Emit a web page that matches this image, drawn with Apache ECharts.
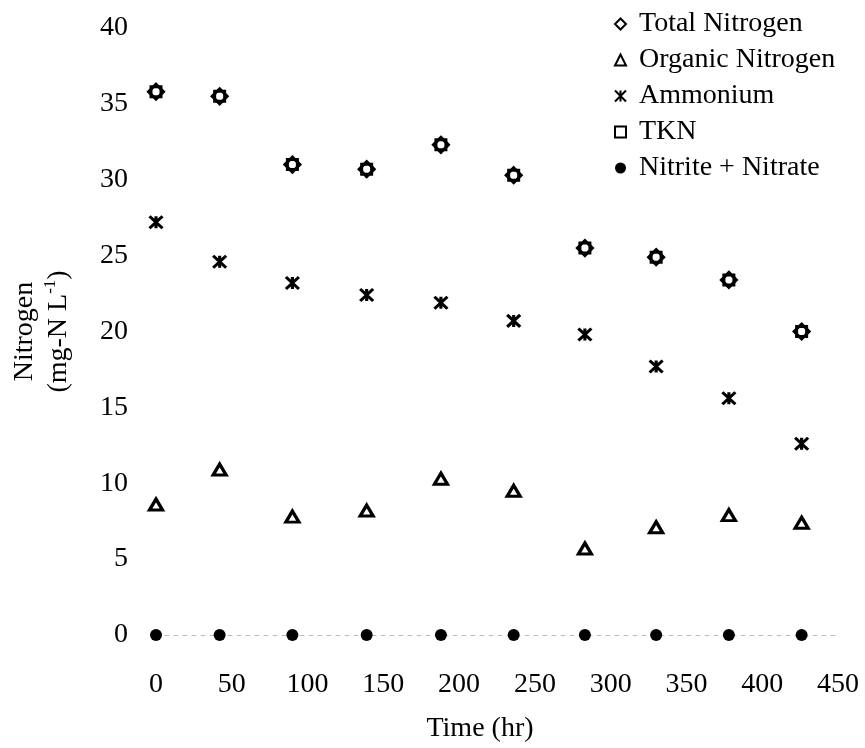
<!DOCTYPE html>
<html>
<head>
<meta charset="utf-8">
<script src="https://cdn.jsdelivr.net/npm/echarts@6/dist/echarts.min.js"></script>
<style>
  html, body { margin: 0; padding: 0; background: #fff; }
  #chart { width: 865px; height: 748px; }
</style>
</head>
<body>
<div id="chart"></div>
<script>
// Sampling times (hr)
const timeHr = [0, 42, 90, 139, 188, 236, 283, 330, 378, 426];

// Nitrogen species (mg-N/L)
const totalNitrogen   = [35.8, 35.5, 31.0, 30.7, 32.3, 30.3, 25.5, 24.9, 23.4, 20.0];
const organicNitrogen = [8.6, 10.9, 7.8, 8.2, 10.3, 9.5, 5.7, 7.1, 7.9, 7.4];
const ammonium        = [27.2, 24.6, 23.2, 22.4, 21.9, 20.7, 19.8, 17.7, 15.6, 12.6];
const tkn             = [35.8, 35.5, 31.0, 30.7, 32.3, 30.3, 25.5, 24.9, 23.4, 20.0];
const nitriteNitrate  = [0, 0, 0, 0, 0, 0, 0, 0, 0, 0];

// Axis ticks
const xTicks = [0, 50, 100, 150, 200, 250, 300, 350, 400, 450];
const yTicks = [0, 5, 10, 15, 20, 25, 30, 35, 40];

const FONT = '"Liberation Serif", "Times New Roman", serif';
const pairs = (ys) => timeHr.map((t, i) => [t, ys[i]]);

// Asterisk marker: an X crossed by a vertical stroke
const starPath = 'path://M0,0 L10,10 M10,0 L0,10 M5,0 L5,10';

const chart = echarts.init(document.getElementById('chart'), null, { renderer: 'canvas' });

chart.setOption({
  backgroundColor: '#fff',
  animation: false,
  textStyle: { fontFamily: FONT, color: '#000' },
  grid: { left: 152, right: 27, top: 28, bottom: 109, containLabel: false },
  legend: {
    orient: 'vertical',
    left: 609,
    top: 1,
    itemWidth: 11,
    itemHeight: 11,
    itemGap: 0,
    selectedMode: false,
    textStyle: { fontFamily: FONT, fontSize: 28, color: '#000', lineHeight: 36, padding: [0, 0, 0, 8] },
    data: ['Total Nitrogen', 'Organic Nitrogen', 'Ammonium', 'TKN', 'Nitrite + Nitrate']
  },
  xAxis: {
    type: 'value',
    min: xTicks[0],
    max: xTicks[xTicks.length - 1],
    interval: 50,
    name: 'Time (hr)',
    nameLocation: 'middle',
    nameGap: 80,
    nameTextStyle: { fontFamily: FONT, fontSize: 28, color: '#000', padding: [0, 34, 0, 0] },
    axisLine: { show: true, lineStyle: { color: '#bbb', width: 1, type: [4, 5] } },
    axisTick: { show: false },
    splitLine: { show: false },
    axisLabel: { fontFamily: FONT, fontSize: 28, color: '#000', margin: 36 }
  },
  yAxis: {
    type: 'value',
    min: yTicks[0],
    max: yTicks[yTicks.length - 1],
    interval: 5,
    name: 'Nitrogen\n(mg-N L{sup|-1})',
    nameLocation: 'middle',
    nameGap: 80,
    nameRotate: 90,
    nameTextStyle: {
      fontFamily: FONT, fontSize: 28, color: '#000', lineHeight: 34, align: 'center',
      rich: { sup: { fontFamily: FONT, fontSize: 17, color: '#000', verticalAlign: 'top', lineHeight: 34, padding: [0, 0, 12, 0] } }
    },
    axisLine: { show: false },
    axisTick: { show: false },
    splitLine: { show: false },
    axisLabel: { fontFamily: FONT, fontSize: 28, color: '#000', margin: 28 }
  },
  series: [
    {
      name: 'Total Nitrogen', type: 'scatter', symbol: 'diamond', symbolSize: 15,
      itemStyle: { color: '#fff', borderColor: '#000', borderWidth: 3, opacity: 1 },
      data: pairs(totalNitrogen), z: 3
    },
    {
      name: 'Organic Nitrogen', type: 'scatter', symbol: 'triangle', symbolSize: [13, 11],
      itemStyle: { color: '#fff', borderColor: '#000', borderWidth: 3.2, opacity: 1 },
      data: pairs(organicNitrogen), z: 3
    },
    {
      name: 'Ammonium', type: 'scatter', symbol: starPath, symbolSize: [13, 12],
      itemStyle: { color: '#000', borderColor: '#000', borderWidth: 3, opacity: 1 },
      data: pairs(ammonium), z: 3
    },
    {
      name: 'TKN', type: 'scatter', symbol: 'rect', symbolSize: 10,
      itemStyle: { color: 'rgba(255,255,255,0)', borderColor: '#000', borderWidth: 3, opacity: 1 },
      data: pairs(tkn), z: 4
    },
    {
      name: 'Nitrite + Nitrate', type: 'scatter', symbol: 'circle', symbolSize: 12,
      itemStyle: { color: '#000', borderColor: '#000', borderWidth: 0, opacity: 1 },
      data: pairs(nitriteNitrate), z: 3
    }
  ]
});
</script>
</body>
</html>
